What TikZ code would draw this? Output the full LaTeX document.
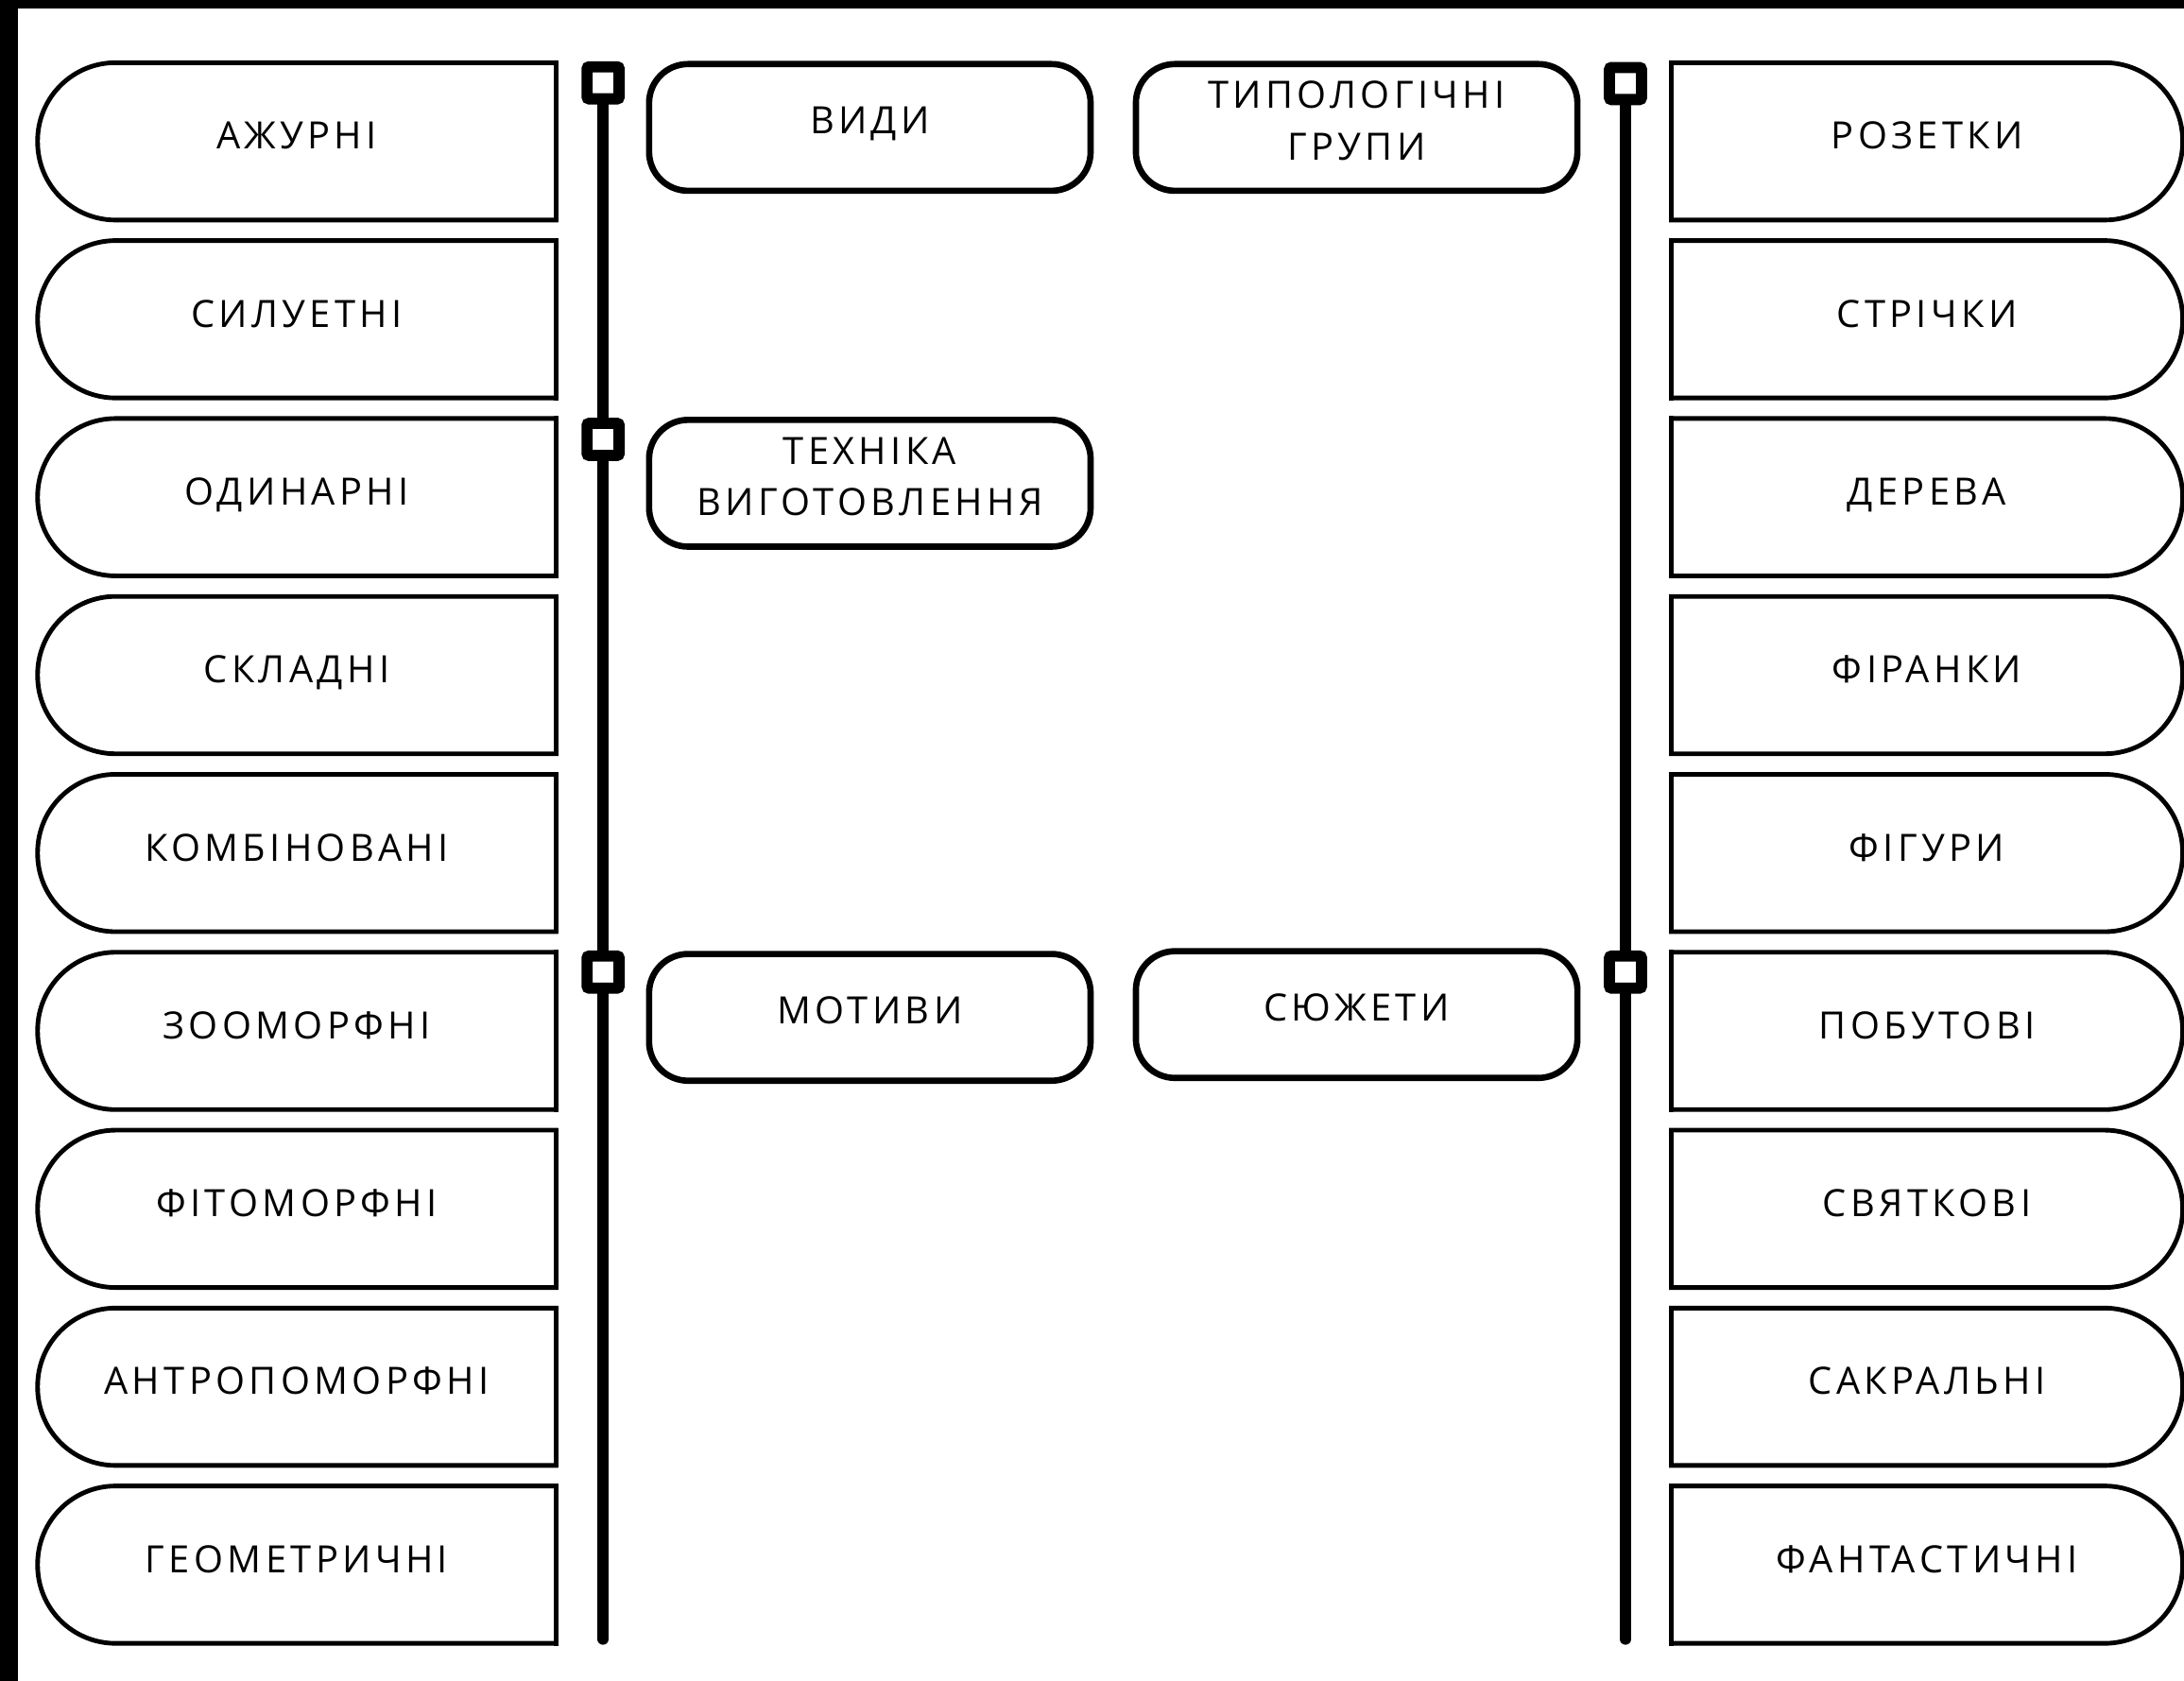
\documentclass[tikz,border=0pt]{standalone}
\usepackage{fontspec}
\setmainfont{Open Sans}
\newfontfamily\lblfont[LetterSpace=11]{Open Sans}
\usetikzlibrary{calc}
\tikzset{
  txt/.style={font=\lblfont\fontsize{27}{37}\selectfont},
  sidebox/.style={txt, minimum width=#1, minimum height=113pt, inner sep=0pt, outer sep=0pt,
    text height=19.3pt, text depth=8pt},
  edge/.style={line width=3.3pt, line cap=rect, line join=miter},
  midbox/.style={txt, draw, line width=4.5pt, rounded corners=28pt, minimum width=317pt,
    minimum height=91pt, inner sep=0pt, align=center, text depth=10pt},
  midone/.style={midbox, text height=19.3pt},
  sq/.style={draw, line width=8pt, fill=white, minimum size=23pt, inner sep=0pt, rounded corners=1.5pt},
  vline/.style={line width=8pt, line cap=round}
}
\begin{document}
\begin{tikzpicture}[x=1pt,y=-1pt]
\useasboundingbox (0,0) rectangle (1568,1207);
\fill[white] (0,0) rectangle (1568,1207);
\fill[black] (0,0) rectangle (1568,6);
\fill[black] (0,0) rectangle (13,1207);
% left column
\foreach \t [count=\i] in {АЖУРНІ,СИЛУЕТНІ,ОДИНАРНІ,СКЛАДНІ,КОМБІНОВАНІ,ЗООМОРФНІ,ФІТОМОРФНІ,АНТРОПОМОРФНІ,ГЕОМЕТРИЧНІ}{
  \node[sidebox=372pt] (l\i) at (213,{101.5+127.75*(\i-1)}) {\t};
  \draw[edge] (l\i.north east) -- (l\i.south east);
  \draw[edge, rounded corners=56pt] (l\i.north east) -- (l\i.north west) -- (l\i.south west) -- (l\i.south east);
}
% right column
\foreach \t [count=\i] in {РОЗЕТКИ,СТРІЧКИ,ДЕРЕВА,ФІРАНКИ,ФІГУРИ,ПОБУТОВІ,СВЯТКОВІ,САКРАЛЬНІ,ФАНТАСТИЧНІ}{
  \node[sidebox=367pt] (r\i) at (1383.5,{101.5+127.75*(\i-1)}) {\t};
  \draw[edge] (r\i.north west) -- (r\i.south west);
  \draw[edge, rounded corners=56pt] (r\i.north west) -- (r\i.north east) -- (r\i.south east) -- (r\i.south west);
}
% middle boxes
\node[midone] (vydy) at (624.5,91.5) {ВИДИ};
\node[midbox] (typ) at (974,91.5) {ТИПОЛОГІЧНІ\\ГРУПИ};
\node[midbox] (tekh) at (624.5,347) {ТЕХНІКА\\ВИГОТОВЛЕННЯ};
\node[midone] (motyvy) at (624.5,730.5) {МОТИВИ};
\node[midone] (siuzh) at (974,728.5) {СЮЖЕТИ};
% left timeline
\coordinate (lbot) at (433,1177);
\node[sq] (ls1) at (433,59.5) {};
\node[sq] (ls2) at (433,315.5) {};
\node[sq] (ls3) at (433,698) {};
\draw[vline] (ls1) -- (ls2);
\draw[vline] (ls2) -- (ls3);
\draw[vline] (ls3) -- (lbot);
% right timeline
\coordinate (rbot) at (1167,1177);
\node[sq] (rs1) at (1167,60) {};
\node[sq] (rs2) at (1167,698) {};
\draw[vline] (rs1) -- (rs2);
\draw[vline] (rs2) -- (rbot);
\end{tikzpicture}
\end{document}
